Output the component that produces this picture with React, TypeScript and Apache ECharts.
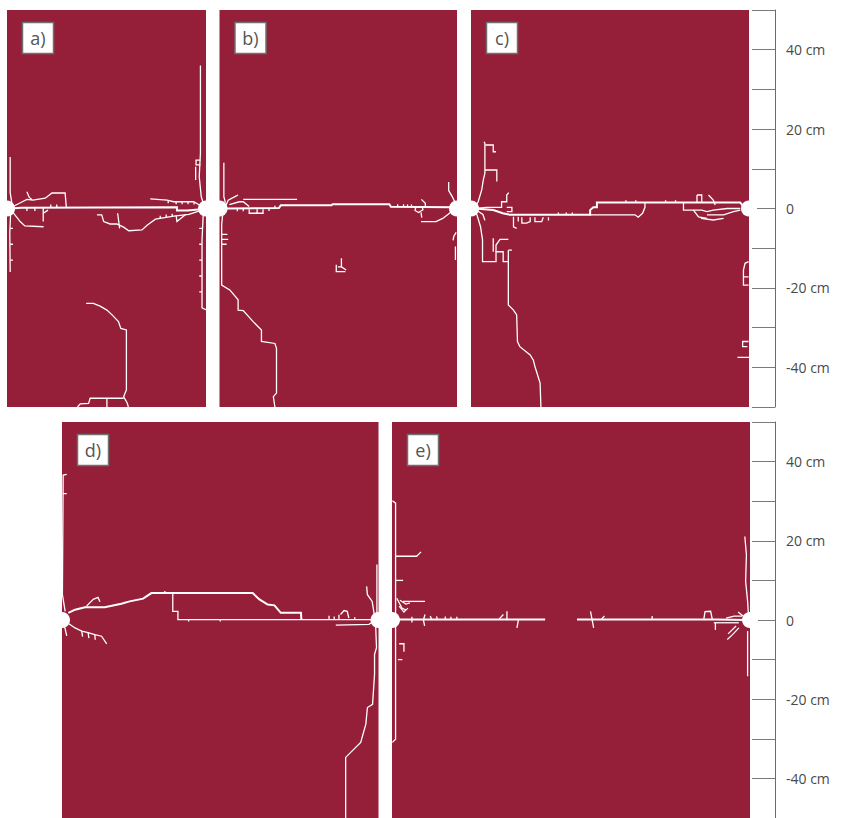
import React, { useEffect, useRef } from 'react';
import * as echarts from 'echarts';

// ---------- data (cm) ----------
const panelLabels = ['a)', 'b)', 'c)', 'd)', 'e)'];
const panelWidthsCm = [50, 60, 70, 80, 90];
const yMinCm = -50;
const yMaxCm = 50;
const axisTickStepCm = 10;
const axisLabelValues = [40, 20, 0, -20, -40];

type Pt = number[];
const cracksA: Pt[][] = [
  [[1, 0], [3.5, 0.2], [42.7, 0.3], [42.7, -0.5], [45.3, -0.5], [49.5, -0.1]],
  [[1.5, 0.5], [3.5, 1.5], [5, 2.3], [6.5, 2.1], [9.6, 2.6], [11.3, 3.9], [14.6, 3.9], [14.9, 0.4]],
  [[5, 4.2], [5.6, 2.8], [6.3, 2.2]],
  [[1.2, -0.6], [3.3, -3.3], [4.5, -4.4], [9.2, -4.6]],
  [[9.1, 0.2], [9.1, -3.3]],
  [[9.1, -1.2], [10.3, -0.4]],
  [[0.8, 13], [0.8, 4], [1.2, 1.5]],
  [[0.9, -1.5], [0.7, -6], [0.8, -16]],
  [[48.6, 36], [48.6, 14], [48.3, 8], [48.8, 3], [49.5, 0.8]],
  [[48.6, 12.2], [47.5, 12.2], [47.5, 11], [48.6, 11]],
  [[47.4, 10.5], [47.4, 7.2]],
  [[49.3, -1.5], [49, -8], [49, -25], [50, -25.5]],
  [[36, 2.4], [40.2, 2.1], [41.9, 1.7], [46.9, 1.7], [49, 0.5]],
  [[22.6, -1.6], [23.8, -1.6], [24.3, -3.3], [25.9, -3.9], [27.6, -3.9], [29.3, -4.7], [30.6, -5.6], [33.9, -5.4], [35.2, -4.2], [37.3, -2.7], [41.9, -1.9], [45.7, -1.5], [49, -0.4]],
  [[27.8, -1.2], [28.3, -5]],
  [[42.5, -1.8], [42.7, -3.3], [44.8, -1.6]],
  [[19.9, -23.9], [21.7, -23.9], [23.4, -24.6], [25.1, -25.6], [26.4, -26.8], [28, -28.5], [28.6, -30.2], [30, -30.6], [30, -45.7], [29.3, -47.4], [30.2, -49], [30.5, -50]],
  [[17.7, -50], [18.4, -49.2], [20.5, -49.1], [20.9, -47.8], [29.3, -47.8]],
  [[25.1, -47.8], [25.1, -50]],
  [[40.5, 2.0], [40.5, 1.3]], [[42.5, 1.7], [42.5, 1.1]], [[44, 1.7], [44, 1.1]], [[45.5, 1.7], [45.5, 1.1]], [[47, 1.6], [47, 1.0]],
  [[38.5, -2.5], [38.5, -1.8]], [[40, -2.2], [40, -1.5]], [[41.5, -2.0], [41.5, -1.3]],
  [[5, 0.2], [5, -0.6]], [[7, 0.2], [7, -0.6]], [[11, 0.3], [11, 1]], [[12.5, 0.3], [12.5, 1]],
  [[49, -5], [48.3, -5]], [[49, -9], [48.3, -9]], [[49, -13], [48.3, -13]], [[49, -17], [48.3, -17]], [[49, -21], [48.3, -21]],
  [[0.8, -5], [1.5, -5]], [[0.8, -9], [1.5, -9]], [[0.8, -13], [1.5, -13]],
];

const cracksB: Pt[][] = [
  [[1.5, 0], [2.6, 0], [15, 0.1], [15.5, 0.8], [28.3, 0.8], [28.6, 1.1], [42.9, 1.1], [43.3, 0.45], [58.5, 0.3]],
  [[6, 2.3], [19.6, 2.3]],
  [[1.5, 0.5], [2.2, 2.1], [3.9, 3], [4.7, 3.4]],
  [[2.5, 1], [5, 1.7], [6, 1.7], [7.5, 0.5]],
  [[7.5, -0.2], [7.5, -1.2], [11, -1.2], [11, -0.2]],
  [[9.5, -0.2], [9.5, -1.2]],
  [[1.1, 11.5], [1.1, 3], [1.5, 1.5]],
  [[0.8, -1.5], [0.55, -4], [0.55, -19.3], [2.6, -20.5], [4.7, -23], [4.7, -25.6], [6, -25.7], [8.5, -28.5], [10.6, -30.6], [10.6, -33.5], [14, -34], [14.4, -35.2], [14.4, -46.5], [13.6, -47.4], [14, -50]],
  [[0.4, -6.5], [2, -6.5]], [[0.4, -7.8], [2.2, -7.8]], [[0.4, -9], [1.8, -9]],
  [[30.8, -12.5], [30.8, -14.7], [32, -15.5]],
  [[29.5, -14.2], [29.5, -15.9], [31.8, -15.9]],
  [[29.9, -14.7], [30.8, -14.7]],
  [[57.9, 6.7], [57.9, 4.5], [58.8, 3], [59.5, 1.5]],
  [[59, -0.5], [58.1, -1.2], [56.4, -2.5], [54.7, -3.3], [50.9, -3.3]],
  [[49.6, 0.4], [49.4, -0.5], [50.3, -1], [51.4, -0.3], [51.2, 0.4]],
  [[51, 2.3], [52, 1.3], [52, 0.4]],
  [[50.9, -1], [51.1, -2.3]],
  [[59.8, -6], [59.2, -7], [59, -8]],
  [[59.6, -9.6], [59.6, -13]],
  [[45, 0.45], [45, 1.1]], [[46.5, 0.45], [46.5, 1.1]], [[47.5, 0.4], [47.5, 1.0]], [[48.5, 0.4], [48.5, 1.0]],
  [[4.5, 0], [4.5, -0.7]], [[6, 0], [6, -0.7]], [[12.5, 0.1], [12.5, -0.6]], [[14, 0.1], [14, 0.7]],
];

const cracksC: Pt[][] = [
  [[1, 0], [5.6, -0.4], [8, -1.2], [9.8, -1.6], [30, -1.6], [30, -0.4], [30.8, 0.3], [31.7, 0.3], [31.7, 1.5], [67.8, 1.5], [69, 0]],
  [[30, -1.6], [41.3, -1.6], [42.1, -2.2], [43.2, -1.2], [43.8, 0.3], [43.8, 1.5]],
  [[1, 0], [4, 0.3], [7.7, 0.3], [7.7, 1.7], [9, 1.7], [9, 3.4], [9.5, 4]],
  [[9, 0.3], [10.3, 0.3], [10.3, -0.8], [9, -0.8]],
  [[10.7, -2.1], [10.7, -4.6], [11.5, -5]],
  [[11.9, -2.1], [11.9, -3.3]],
  [[12.8, -2.2], [12.8, -3.7], [14, -3.7], [14.9, -3.3], [14.9, -2.2]],
  [[16.1, -2.2], [16.1, -3.3], [17.8, -3.3], [18.2, -2.2]],
  [[19.5, -2.2], [19.5, -3.0]],
  [[3.3, 16.8], [3.5, 16.4], [3.5, 8.9], [3.1, 7.2], [2.7, 4.7], [1.8, 1.7], [1, 0.3]],
  [[3.6, 16], [5.6, 16], [5.6, 14.3], [6.3, 14.3]],
  [[3.5, 9.7], [6.5, 9.7], [6.5, 6.8]],
  [[1.2, -0.6], [2.4, -4.6], [2.9, -7.9], [2.9, -13.4], [6.3, -13.4], [6.3, -10.9], [8.1, -10.9], [8.1, -13.4], [9.4, -13.4]],
  [[5.6, -10.9], [5.6, -7.5]],
  [[6.3, -10.9], [6.3, -9.2], [7.3, -7.8], [9.4, -7.8]],
  [[9.4, -10.5], [10.3, -10.5]],
  [[9.4, -10.5], [9.4, -24.3], [10.7, -25.6], [11.5, -26.8], [11.7, -33.5], [12.3, -34.8], [14.9, -36.9], [15.7, -38.2], [16.1, -39.8], [17.4, -44], [17.6, -50]],
  [[1.5, -0.5], [3, -1.5], [3.5, -3]],
  [[53.5, 1.5], [53.5, -0.4], [56, -0.4], [57.3, -2.1], [59.4, -2.5]],
  [[56.9, 3.4], [56.9, 1.5]],
  [[56.9, 3.4], [58.1, 3.4], [58.1, 1.7]],
  [[59.8, 3.4], [61, 2.1], [61.5, 0.9]],
  [[56, -0.4], [58.1, -0.4], [59.4, -0.8], [61, -0.4], [64.5, 0], [67.8, 0]],
  [[59.4, -1.6], [63.6, -1.6], [66.1, -0.8], [67.8, -0.4]],
  [[57.9, -2.5], [61, -2.9], [63.6, -2.5]],
  [[69.9, -13.4], [69, -13.8], [68.6, -15.5], [68.6, -19.3], [69.9, -19.3]],
  [[68.6, -17.2], [69.9, -17.2]],
  [[69.9, -33.5], [68.4, -33.5], [68.4, -34.8], [69.6, -34.8]],
  [[67.1, -37.5], [70, -37.5]],
  [[22, -1.6], [22, -1.0]], [[24, -1.6], [24, -1.0]], [[25.5, -1.6], [25.5, -1.0]],
  [[39, 1.5], [39, 2.1]], [[41.5, 1.5], [41.5, 2.1]], [[49, 1.5], [49, 2.1]], [[51.5, 1.5], [51.5, 2.1]],
];

const cracksD: Pt[][] = [
  [[1.6, 1.8], [3.3, 2.6], [5.8, 3.2], [10.8, 3.2], [15, 4.1], [17.1, 4.7], [20.5, 5.4], [22.6, 6.8], [48.2, 6.8], [49.9, 5.2], [52, 3.9], [53.7, 3.7], [55.3, 1.8], [60.4, 1.8], [60.5, 0.2]],
  [[28, 6.8], [28, 2.2], [29.3, 2.2], [29.3, 0.1], [77.6, 0.1], [79, 0]],
  [[69.2, -1.3], [77.6, -1.1], [78.5, -0.5]],
  [[70.4, 1.4], [71.3, 2.4], [72.1, 2.2], [72.5, 0.5]],
  [[77, 8.5], [77.2, 6.4], [78.4, 4.7], [78.8, 2.2], [79, 1]],
  [[79.6, 14], [79.6, 1.5]],
  [[79.2, -1.5], [79.3, -2], [79.5, -7], [79, -8.7], [79, -13.7], [78.5, -21.3], [77.2, -22.1], [76.8, -26.3], [75.5, -30.9], [71.7, -34.7], [71.7, -50]],
  [[0.8, -0.3], [3.3, -2], [5, -2.8], [6.6, -3.2], [8.3, -3.7], [10, -4.1], [11.3, -6]],
  [[5, -2.8], [5.2, -4.2]], [[8.3, -3.7], [8.4, -5]], [[6.6, -3.2], [6.8, -4.6]], [[0.5, -1], [1.2, -4]],
  [[1.2, 36.8], [0.3, 36.6], [0.1, 6.4], [0.8, 2.2]],
  [[0.2, 31.9], [1.2, 31.9]],
  [[6.2, 3.5], [7.9, 5.2], [9.1, 5.7], [9.6, 4.6]],
  [[26, 6.8], [26, 7.3]], [[32, 0.1], [32, -0.4]], [[40, 0.1], [40, -0.4]],
  [[67.5, 0.1], [67.5, 1.1]], [[68.8, 0.1], [68.8, 0.9]], [[70, 0.1], [70, 1.3]], [[74, 0.1], [74, 0.7]],
];

const cracksE: Pt[][] = [
  [[1.6, 0.1], [38.5, 0.1]],
  [[46.5, 0.1], [81.4, 0.1], [89.3, 0]],
  [[78.4, 0.3], [78.7, 2.1], [80.1, 2.2], [80.5, 0.3]],
  [[80.9, -0.7], [87.2, -0.7]],
  [[81.3, -0.7], [81.3, -2.5]],
  [[0.1, 30.1], [0.9, 29.5], [0.9, -30.1], [0.1, -30.9]],
  [[0.9, 16.1], [6.2, 16.1], [7.3, 17.2]],
  [[0.9, 10], [2.8, 10]],
  [[2.8, 4.7], [8.3, 4.7]],
  [[1.2, 5.5], [2.5, 3], [3.5, 2.5]],
  [[2, 5], [3.5, 4], [4.5, 4.3]],
  [[1.8, 3.5], [3, 2], [4, 3]],
  [[28.9, 2.2], [28.9, 0.1]], [[26.8, 0.1], [28, 1.4]], [[31.8, 0.1], [31.4, -2]],
  [[49.9, 2.2], [50.3, 0.1], [50.7, -2]], [[52.6, 0.1], [53.4, 1]], [[65.4, 1], [65.4, 0.1]],
  [[8.3, 1.4], [7.9, 0], [8.2, -1.5]], [[5, 0.8], [5, -0.6]], [[9.6, 1], [10, 0.1]],
  [[11.2, 0.9], [11.4, 0.1]], [[13.4, 0.9], [13.4, 0.1]], [[14.8, 0.8], [14.8, 0.1]], [[16.3, 0.8], [16.3, 0.1]],
  [[88.7, 21.1], [89.1, 16.5], [88.9, 9.8], [89.4, 4.7], [89.6, 1.4]],
  [[89.4, -2.8], [89.4, -14.2]],
  [[87.2, -2], [85.6, -3.7], [84.3, -4.9]],
  [[86.5, -1.5], [85, -3], [84.5, -3.5]],
  [[84, 0.5], [86, 1], [88, 1]],
  [[87, 2], [88.5, 0.8]],
  [[1.8, -6], [3, -6], [3, -8]], [[1.5, -10], [2.6, -10]],
];

const cracks = [cracksA, cracksB, cracksC, cracksD, cracksE];

// ---------- styling / layout ----------
const CRIMSON = '#951f39';
const panelRects = [
  { left: 7, top: 10, width: 199, height: 397 },
  { left: 219.5, top: 10, width: 237.5, height: 397 },
  { left: 471, top: 10, width: 278, height: 397 },
  { left: 62, top: 422, width: 316.5, height: 397 },
  { left: 392, top: 422, width: 358, height: 397 },
];
const axisRects = [
  { left: 752, top: 10, width: 23, height: 397 },
  { left: 752, top: 422, width: 23, height: 397 },
];

export default function App() {
  const ref = useRef<HTMLDivElement>(null);
  useEffect(() => {
    const chart = echarts.init(ref.current!, null, { renderer: 'svg' });

    const grid: any[] = panelRects.map((r) => ({
      ...r,
      show: true,
      backgroundColor: CRIMSON,
      borderWidth: 0,
      containLabel: false,
    }));
    axisRects.forEach((r) => grid.push({ ...r, show: false, containLabel: false }));

    const xAxis: any[] = [];
    const yAxis: any[] = [];
    panelWidthsCm.forEach((w, i) => {
      xAxis.push({ type: 'value', gridIndex: i, min: 0, max: w, show: false });
      yAxis.push({ type: 'value', gridIndex: i, min: yMinCm, max: yMaxCm, show: false });
    });
    axisRects.forEach((_, k) => {
      const gi = panelRects.length + k;
      xAxis.push({ type: 'value', gridIndex: gi, min: 0, max: 1, show: false });
      yAxis.push({
        type: 'value',
        gridIndex: gi,
        position: 'right',
        min: yMinCm,
        max: yMaxCm,
        interval: axisTickStepCm,
        axisLine: { show: true, onZero: false, lineStyle: { color: '#6b6b6b', width: 1 } },
        axisTick: { show: true, inside: true, length: 23, lineStyle: { color: '#7a7a7a', width: 1 } },
        splitLine: { show: false },
        axisLabel: {
          show: true,
          margin: 11,
          color: '#4a4a4a',
          fontSize: 14,
          fontFamily: 'Open Sans, sans-serif',
          formatter: (v: number) =>
            axisLabelValues.includes(v) ? (v === 0 ? '0' : `${v} cm`) : '',
        },
      });
    });

    const series: any[] = [];
    cracks.forEach((list, i) => {
      series.push({
        type: 'lines',
        coordinateSystem: 'cartesian2d',
        xAxisIndex: i,
        yAxisIndex: i,
        polyline: true,
        silent: true,
        lineStyle: { color: '#ffffff', width: 1.3, opacity: 1 },
        data: list.map((c, k) => ({
          coords: c,
          lineStyle: k < (i === 4 ? 2 : 1) ? { width: 2, color: '#ffffff', opacity: 1 } : undefined,
        })),
        z: 3,
      });
      series.push({
        type: 'scatter',
        xAxisIndex: i,
        yAxisIndex: i,
        symbol: 'circle',
        symbolSize: 16,
        silent: true,
        clip: false,
        itemStyle: { color: '#ffffff', opacity: 1 },
        data: [[0, 0], [panelWidthsCm[i], 0]],
        z: 4,
      });
    });

    const graphic: any[] = [];
    panelRects.forEach((r, i) => {
      const bx = r.left + 15.5;
      const by = r.top + 12.5;
      graphic.push({
        type: 'rect',
        shape: { x: bx, y: by, width: 31, height: 31 },
        style: { fill: '#ffffff', stroke: '#707070', lineWidth: 1.5 },
        z: 10,
      });
      graphic.push({
        type: 'text',
        x: bx + 15.5,
        y: by + 15.5,
        style: {
          text: panelLabels[i],
          fill: '#555555',
          font: '18px "Open Sans", sans-serif',
          align: 'center',
          verticalAlign: 'middle',
        },
        z: 11,
      });
    });

    chart.setOption({
      animation: false,
      backgroundColor: '#ffffff',
      grid,
      xAxis,
      yAxis,
      series,
      graphic,
    });
    return () => chart.dispose();
  }, []);

  return (
    <div
      ref={ref}
      style={{ position: 'absolute', left: 0, top: 0, width: 845, height: 818 }}
    />
  );
}
